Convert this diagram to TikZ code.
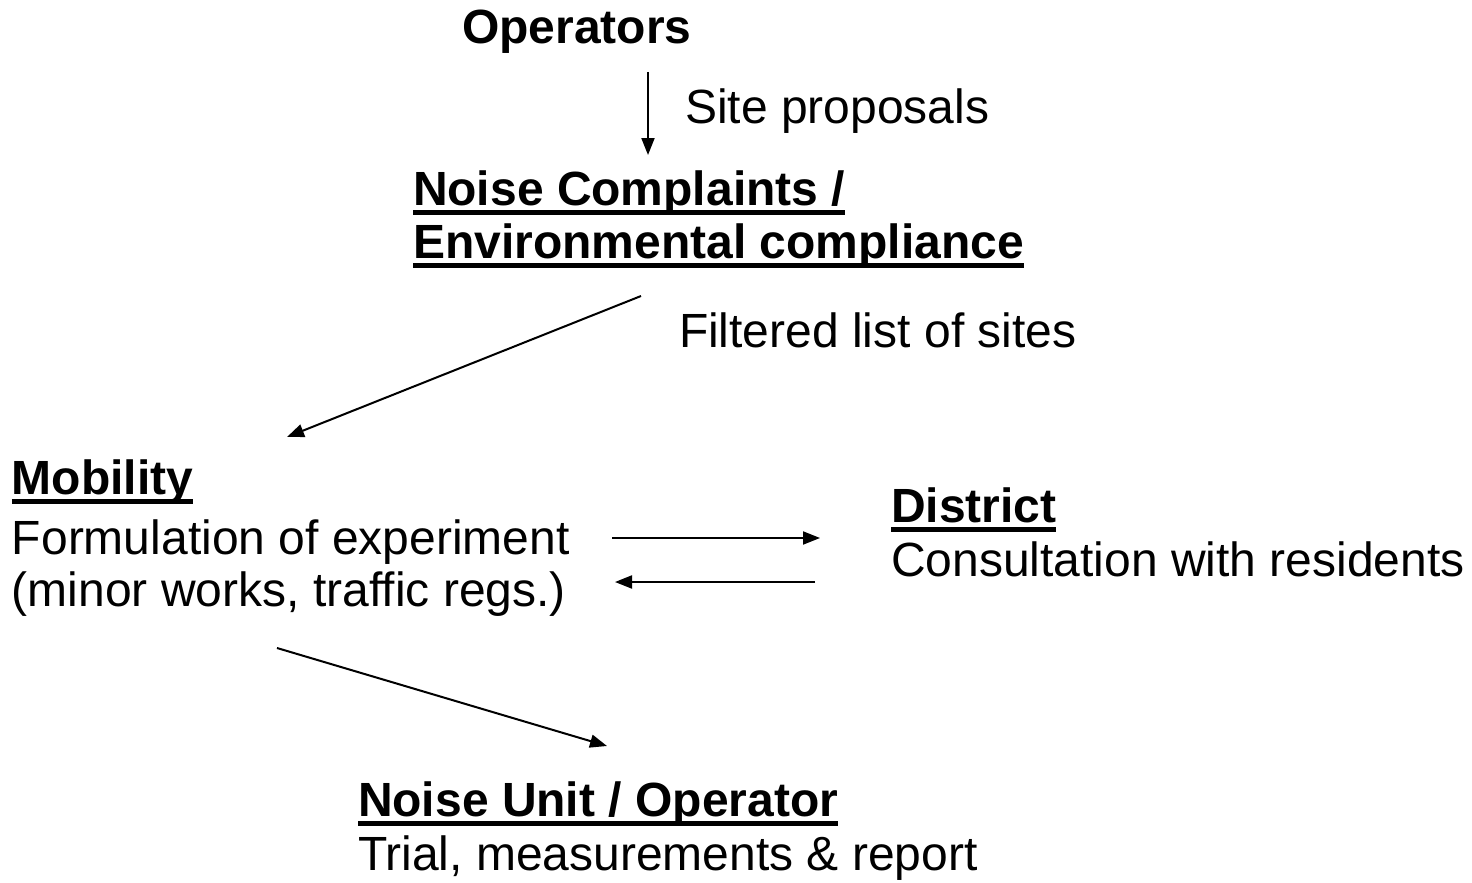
\documentclass[tikz,border=0pt]{standalone}
\usepackage{fontspec}
\setmainfont[Ligatures=NoCommon]{Liberation Sans}
\usetikzlibrary{arrows.meta}
\newcommand\myul[1]{\setbox0\hbox{#1}\rlap{\rule[-10pt]{\wd0}{5pt}}\box0}
\begin{document}
\begin{tikzpicture}[x=1pt,y=-1pt,
  txt/.style={anchor=base west,inner sep=0pt,outer sep=0pt,font=\fontsize{48}{53}\selectfont},
  head/.style={txt,font=\fontsize{48}{53}\selectfont\bfseries},
  flow/.style={line width=2pt,-{Triangle[length=17pt,width=13pt]}}]
\useasboundingbox (0,0) rectangle (1472,883);
\node[head] (ops) at (462,44) {Operators};
\node[txt] (sitep) at (685,123) {Site proposals};
\node[head] (nc1) at (413,205) {\myul{Noise Complaints /}};
\node[head] (nc2) at (413,258) {\myul{Environmental compliance}};
\node[txt] (filt) at (679,347) {Filtered list of sites};
\node[head] (mob) at (12,494) {\myul{Mobility}};
\node[txt] (mob1) at (12,554) {Formulation of experiment};
\node[txt] (mob2) at (12,606) {(minor works, traffic regs.)};
\node[head] (dis) at (891,522) {\myul{District}};
\node[txt] (dis1) at (891,576) {Consultation with residents};
\node[head] (nu) at (358,816) {\myul{Noise Unit / Operator}};
\node[txt] (nu1) at (358,870) {Trial, measurements \& report};
\coordinate (a1s) at (648,72);
\coordinate (a1e) at (648,155);
\coordinate (a2s) at (641,296);
\coordinate (a2e) at (287,437);
\coordinate (a3s) at (612,538);
\coordinate (a3e) at (820,538);
\coordinate (a4s) at (815,582);
\coordinate (a4e) at (615,582);
\coordinate (a5s) at (277,648);
\coordinate (a5e) at (607,746);
\draw[flow] (a1s) -- (a1e);
\draw[flow] (a2s) -- (a2e);
\draw[flow] (a3s) -- (a3e);
\draw[flow] (a4s) -- (a4e);
\draw[flow] (a5s) -- (a5e);
\end{tikzpicture}
\end{document}
